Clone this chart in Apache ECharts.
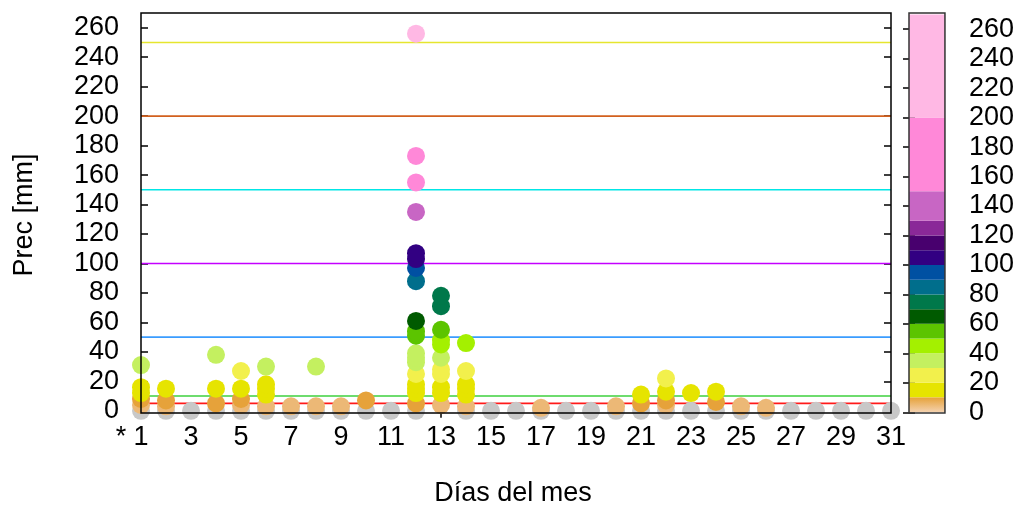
<!DOCTYPE html>
<html><head><meta charset="utf-8">
<script src="https://cdn.jsdelivr.net/npm/echarts@6/dist/echarts.min.js"></script>
<style>html,body{margin:0;padding:0;background:#fff}#c{width:1017px;height:506px}</style>
</head><body><div id="c"></div>
<script>
const FONT = "'Liberation Sans', Arial, sans-serif";
const FS = 27;
const xTicks = [1,3,5,7,9,11,13,15,17,19,21,23,25,27,29,31];
const yTicks = [0,20,40,60,80,100,120,140,160,180,200,220,240,260];
const days = [1,2,3,4,5,6,7,8,9,10,11,12,13,14,15,16,17,18,19,20,21,22,23,24,25,26,27,28,29,30,31];
const dayValues = [
  [0,4,8,12,16,31],
  [0,3,7,15],
  [0],
  [0,5,15,38],
  [0,4,8,15,27],
  [0,3,11,15,18,30],
  [0,3],
  [0,3,30],
  [0,3],
  [0,7],
  [0],
  [0,5,12,15,18,25,33,36,39,51,54,61,88,97,103,107,135,155,173,256],
  [4,12,16,25,28,36,45,48,55,71,78],
  [0,3,11,15,18,27,46],
  [0],
  [0],
  [0,2],
  [0],
  [0],
  [0,3],
  [0,5,11],
  [0,4,7,13,22],
  [0,12],
  [0,6,13],
  [0,3],
  [0,2],
  [0],
  [0],
  [0],
  [0],
  [0]
];
const levelBounds = [10,20,30,40,50,60,70,80,90,100,110,120,130,150,200,270];
const levelColors = ['#e6e400','#f2f04c','#c4f060','#a4f000','#5cc400','#005a00','#00784a','#006e8c','#0050a2','#320082','#48006e','#8a2898','#c866c4','#ff88d8','#ffb8e4'];
const zeroColor = '#c8c8c8';
const lowColors = ['#ecb876','#e6a23a'];   // 0-5, 5-10
const refValues = [5,10,50,100,150,200,250];
const refColors = ['#ff1a1a','#3ed03e','#3a9cff','#c400ff','#00e6e6','#d2601e','#e6e62e'];

function colorFor(v){
  if (v <= 0) return zeroColor;
  if (v < 5) return lowColors[0];
  if (v < 10) return lowColors[1];
  for (let i = 0; i < levelBounds.length - 1; i++) {
    if (v < levelBounds[i+1]) return levelColors[i];
  }
  return levelColors[levelColors.length-1];
}

const points = [];
days.forEach((d, i) => dayValues[i].forEach(v => points.push([d, v])));
points.sort((a, b) => a[1] - b[1]);

const bands = [];
for (let i = 0; i < levelBounds.length - 1; i++) bands.push([levelBounds[i], levelBounds[i+1], levelColors[i]]);

const chart = echarts.init(document.getElementById('c'), null, {renderer: 'canvas'});
const tickStyle = {inside: true, length: 7, lineStyle: {color: '#000', width: 1.5}};
const labelStyle = {color: '#000', fontSize: FS, fontFamily: FONT};

const series = [];
refValues.forEach((v, i) => series.push({
  type: 'line', xAxisIndex: 0, yAxisIndex: 0, data: [[1, v], [31, v]],
  symbol: 'none', silent: true, z: 1,
  lineStyle: {color: refColors[i], width: 1.6}
}));
series.push({
  type: 'scatter', xAxisIndex: 0, yAxisIndex: 0, data: points,
  symbol: 'circle', symbolSize: 18, z: 3,
  itemStyle: {color: p => colorFor(p.value[1]), opacity: 1}
});
series.push({
  type: 'custom', xAxisIndex: 2, yAxisIndex: 2, data: bands, z: 2,
  renderItem: (params, api) => {
    const p0 = api.coord([0, api.value(0)]);
    const p1 = api.coord([1, api.value(1)]);
    return {type: 'rect', shape: {x: p0[0], y: p1[1], width: p1[0]-p0[0], height: p0[1]-p1[1]},
            style: {fill: api.visual('color')}};
  },
  itemStyle: {color: p => p.data[2]}
});
series.push({
  type: 'custom', xAxisIndex: 2, yAxisIndex: 2, data: [[0, 10]], z: 2,
  renderItem: (params, api) => {
    const p0 = api.coord([0, api.value(0)]);
    const p1 = api.coord([1, api.value(1)]);
    return {type: 'rect', shape: {x: p0[0], y: p1[1], width: p1[0]-p0[0], height: p0[1]-p1[1]},
            style: {fill: new echarts.graphic.LinearGradient(0, 0, 0, 1, [
              {offset: 0, color: lowColors[1]}, {offset: 1, color: '#f4d2b0'}])}};
  }
});

chart.setOption({
  animation: false,
  backgroundColor: '#fff',
  grid: [
    {left: 141, right: 126, top: 13, bottom: 93, show: true, borderColor: '#000', borderWidth: 1.5, backgroundColor: 'transparent', z: 4},
    {left: 909, right: 71, top: 13, bottom: 93, show: true, borderColor: '#333', borderWidth: 1.5, backgroundColor: 'transparent', z: 4}
  ],
  xAxis: [
    {type: 'value', gridIndex: 0, min: 1, max: 31, position: 'bottom',
     axisLine: {show: false}, splitLine: {show: false},
     axisTick: Object.assign({customValues: xTicks}, tickStyle),
     axisLabel: Object.assign({customValues: xTicks, margin: 11}, labelStyle)},
    {type: 'value', gridIndex: 0, min: 1, max: 31, position: 'top',
     axisLine: {show: false}, splitLine: {show: false},
     axisTick: Object.assign({customValues: xTicks}, tickStyle),
     axisLabel: {show: false}},
    {type: 'value', gridIndex: 1, min: 0, max: 1, show: false}
  ],
  yAxis: [
    {type: 'value', gridIndex: 0, min: -1.5, max: 270, position: 'left',
     axisLine: {show: false}, splitLine: {show: false},
     axisTick: Object.assign({customValues: yTicks}, tickStyle),
     axisLabel: Object.assign({customValues: yTicks, margin: 22}, labelStyle)},
    {type: 'value', gridIndex: 0, min: -1.5, max: 270, position: 'right',
     axisLine: {show: false}, splitLine: {show: false},
     axisTick: Object.assign({customValues: yTicks}, tickStyle),
     axisLabel: {show: false}},
    {type: 'value', gridIndex: 1, min: -0.5, max: 271, position: 'right',
     axisLine: {show: false}, splitLine: {show: false},
     axisTick: Object.assign({customValues: yTicks}, tickStyle, {length: 6}),
     axisLabel: Object.assign({customValues: yTicks, margin: 24, align: 'left'}, labelStyle)},
    {type: 'value', gridIndex: 1, min: -0.5, max: 271, position: 'left',
     axisLine: {show: false}, splitLine: {show: false},
     axisTick: Object.assign({customValues: yTicks}, tickStyle, {length: 6}),
     axisLabel: {show: false}}
  ],
  graphic: [
    {type: 'text', x: 25, y: 215, rotation: Math.PI/2,
     style: {text: 'Prec [mm]', fill: '#000', font: FS + 'px ' + FONT, textAlign: 'center', textVerticalAlign: 'middle'}},
    {type: 'text', x: 513, y: 494,
     style: {text: 'Días del mes', fill: '#000', font: FS + 'px ' + FONT, textAlign: 'center', textVerticalAlign: 'middle'}},
    {type: 'text', x: 121, y: 438,
     style: {text: '*', fill: '#000', font: FS + 'px ' + FONT, textAlign: 'center', textVerticalAlign: 'middle'}}
  ],
  series: series
});
</script></body></html>
